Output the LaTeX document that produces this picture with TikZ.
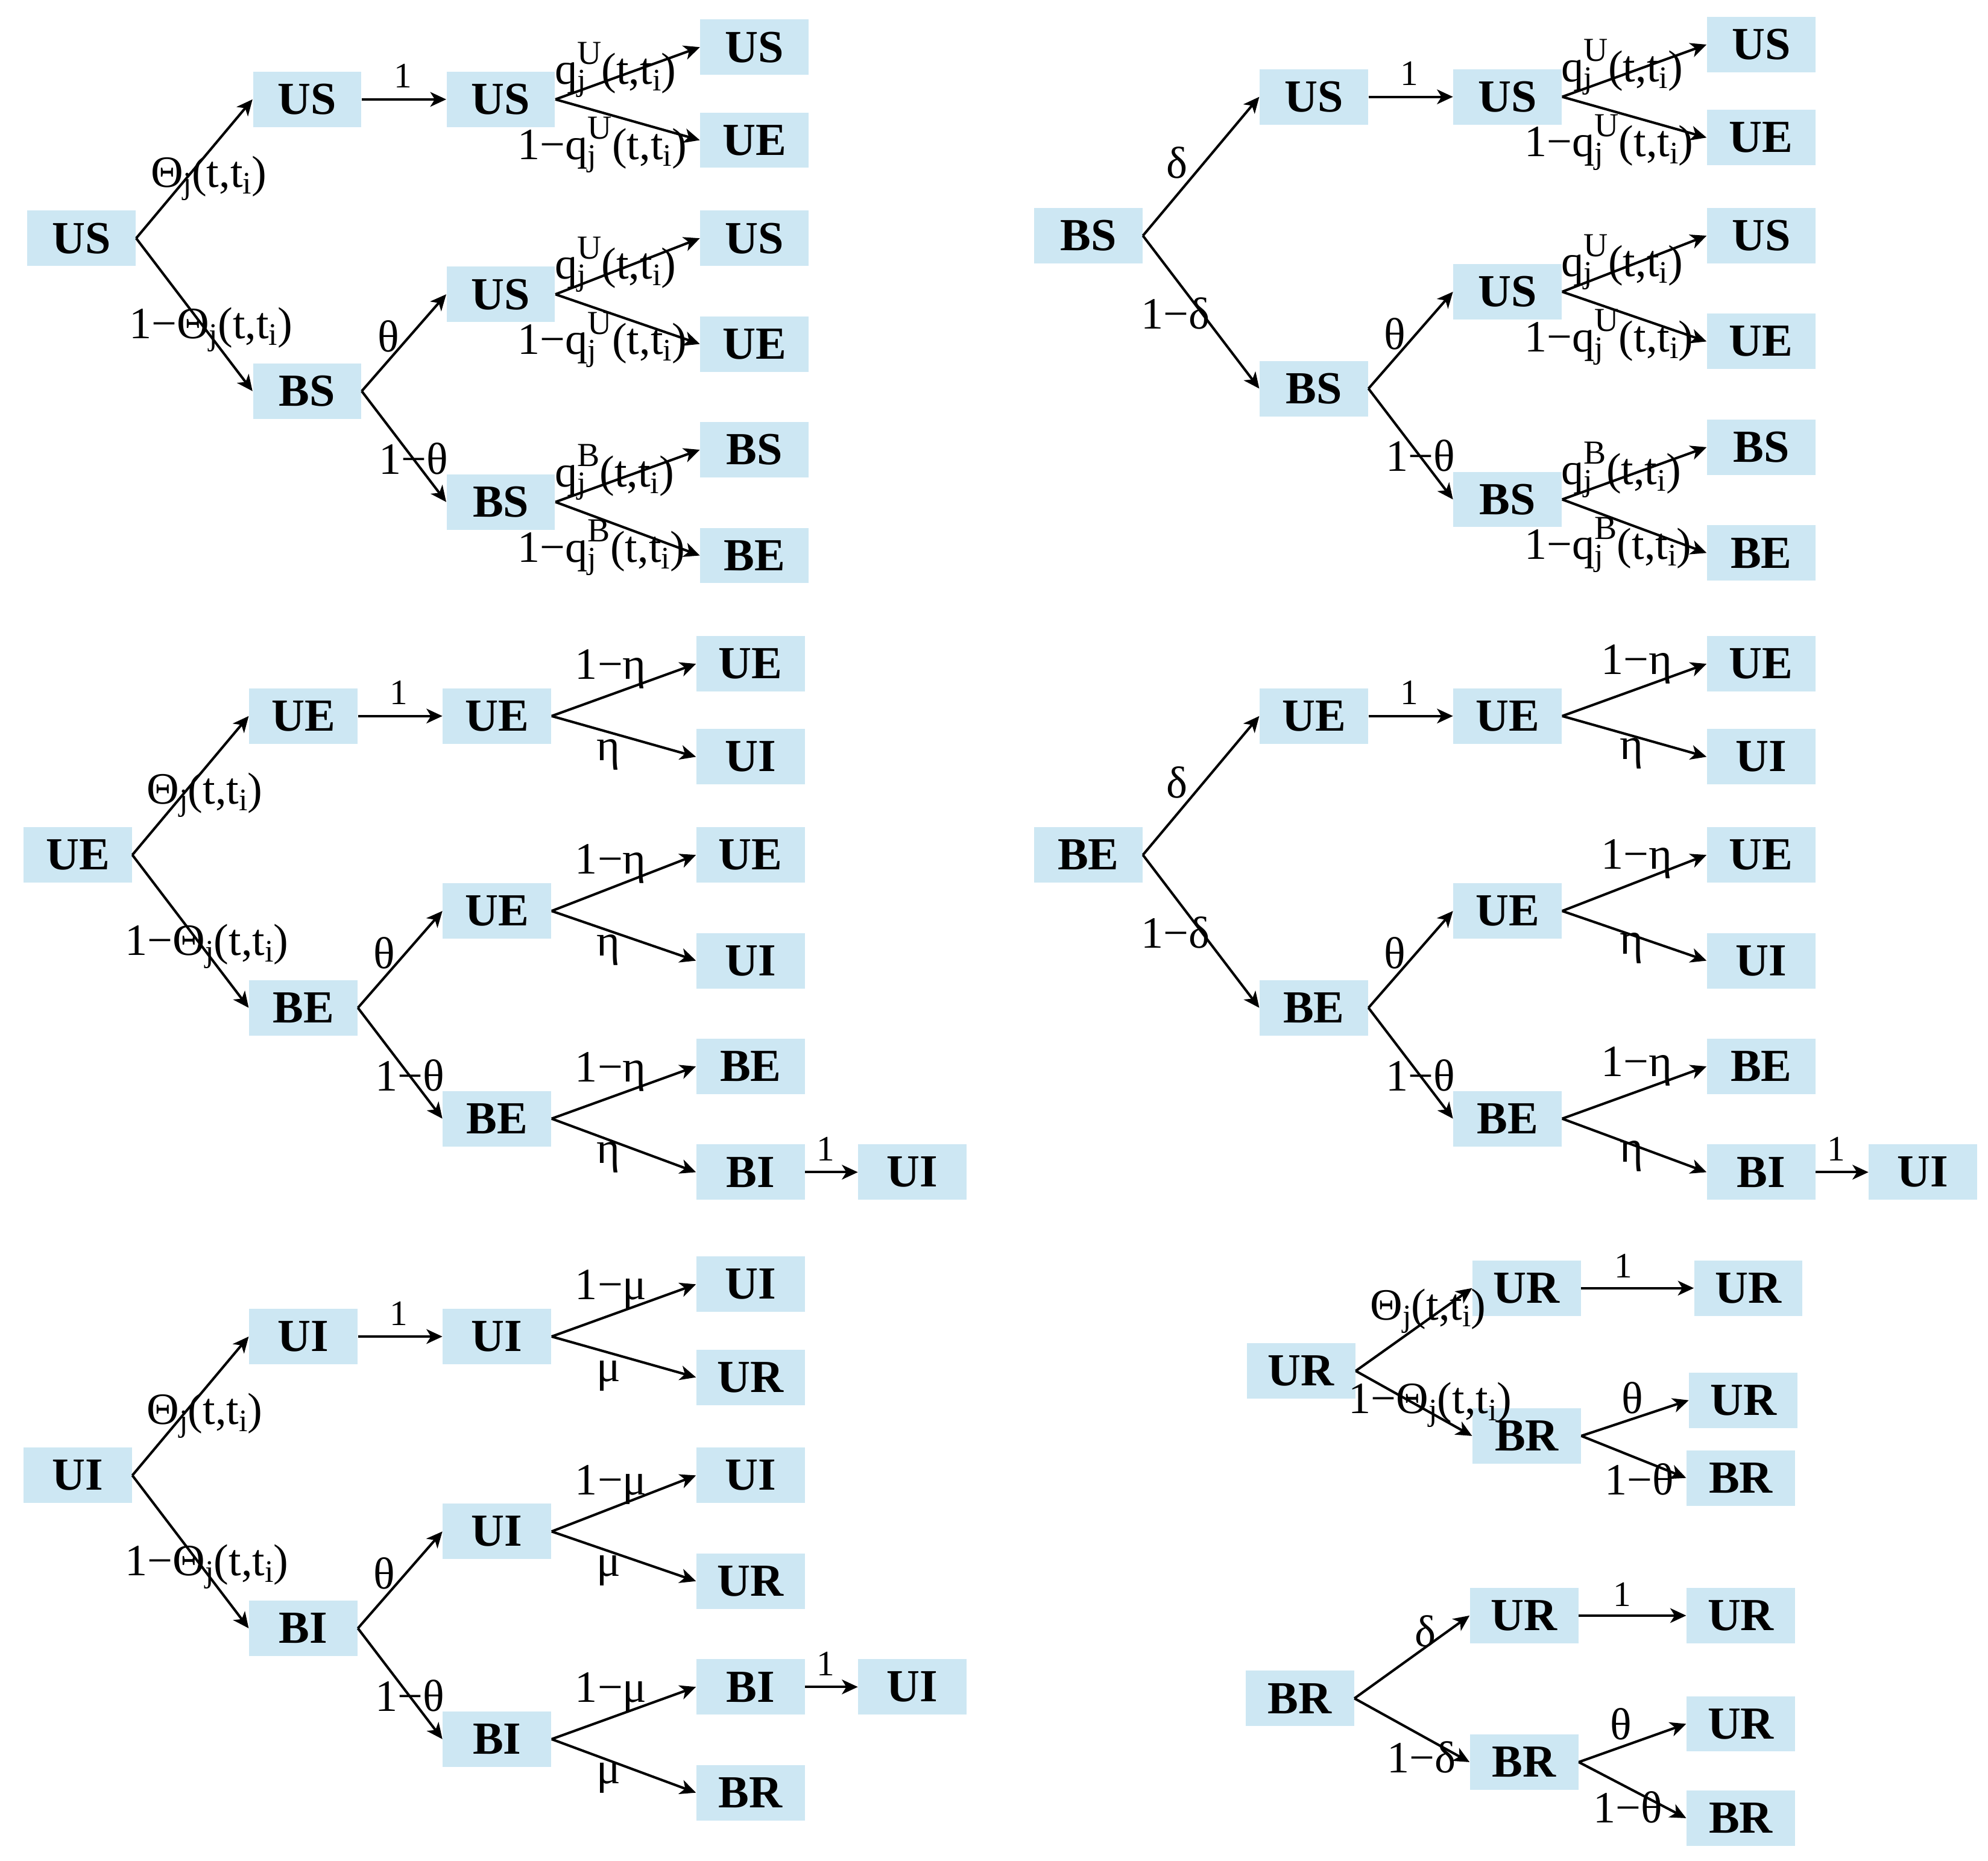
\documentclass[tikz,border=0pt]{standalone}
\usepackage{fontspec}
\setmainfont{Liberation Serif}
\usetikzlibrary{arrows.meta}
\definecolor{boxblue}{RGB}{205,231,243}
\newcommand\lsb[1]{\raisebox{-3pt}{\fontsize{14}{14}\selectfont #1}}
\newcommand\lsp[1]{\raisebox{9pt}{\fontsize{15}{15}\selectfont #1}}
\newcommand\Thj{Θ\lsb{j}(t,t\lsb{i})}
\newcommand\qq[1]{q\rlap{\lsb{j}}\lsp{#1}(t,t\lsb{i})}
% main body of a big tree: root, level 1, level 2
\newcommand\treeA[7]{%
  \node[box] (#1r) at (0,0) {#2};
  \node[box] (#1a) at (177,-109) {#3};
  \node[box] (#1b) at (177,120) {#4};
  \node[box] (#1c) at (329,-109) {#5};
  \node[box] (#1d) at (329,44) {#6};
  \node[box] (#1e) at (329,207) {#7};
  \draw[arr] (#1r.east) -- (#1a.west);
  \draw[arr] (#1r.east) -- (#1b.west);
  \draw[arr] (#1a.east) -- (#1c.west);
  \draw[arr] (#1b.east) -- (#1d.west);
  \draw[arr] (#1b.east) -- (#1e.west);
  \node[onelab] (#1one) at (252,-118) {1};
  \node[lab] (#1th) at (232,89) {θ};
  \node[lab] (#1nth) at (233,185) {1−θ};
}
% leaves of a big tree
\newcommand\treeL[7]{%
  \node[box] (#1l1) at (528,-150) {#2};
  \node[box] (#1l2) at (528,-77) {#3};
  \node[box] (#1l3) at (528,0) {#4};
  \node[box] (#1l4) at (528,83) {#5};
  \node[box] (#1l5) at (528,166) {#6};
  \node[box] (#1l6) at (528,249) {#7};
  \draw[arr] (#1c.east) -- (#1l1.west);
  \draw[arr] (#1c.east) -- (#1l2.west);
  \draw[arr] (#1d.east) -- (#1l3.west);
  \draw[arr] (#1d.east) -- (#1l4.west);
  \draw[arr] (#1e.east) -- (#1l5.west);
  \draw[arr] (#1e.east) -- (#1l6.west);
}
\newcommand\qlabels[1]{%
  \node[lab] (#1q1) at (371,-121) {\qq{U}};
  \node[lab] (#1q2) at (342,-62) {1−\qq{U}};
  \node[lab] (#1q3) at (371,32) {\qq{U}};
  \node[lab] (#1q4) at (342,91) {1−\qq{U}};
  \node[lab] (#1q5) at (371,195) {\qq{B}};
  \node[lab] (#1q6) at (342,254) {1−\qq{B}};
}
% #1 prefix, #2 greek letter, #3 x of "1-g", #4 dy of "1-g", #5 x of "g", #6 dy of "g"
\newcommand\glabels[6]{%
  \node[lab] (#1g1) at (#3,{-109+(#4)}) {1−#2};
  \node[lab] (#1g2) at (#5,{-109+(#6)}) {#2};
  \node[lab] (#1g3) at (#3,{44+(#4)}) {1−#2};
  \node[lab] (#1g4) at (#5,{44+(#6)}) {#2};
  \node[lab] (#1g5) at (#3,{207+(#4)}) {1−#2};
  \node[lab] (#1g6) at (#5,{207+(#6)}) {#2};
}
\begin{document}
\begin{tikzpicture}[x=0.02cm,y=-0.02cm,
  box/.style={fill=boxblue, minimum width=1.7cm, minimum height=0.87cm, inner sep=0pt,
    font=\fontsize{20.5}{24}\selectfont\bfseries},
  lab/.style={inner sep=0pt, anchor=base west, font=\fontsize{20}{24}\selectfont},
  onelab/.style={inner sep=0pt, anchor=base, font=\fontsize{16}{19}\selectfont},
  arr/.style={-{Stealth[length=0.25cm,width=0.23cm,inset=0.07cm]}, line width=1.1pt}]
\useasboundingbox (0,0) rectangle (1560,1460.6);

% ---------- top left ----------
\begin{scope}[shift={(64,187)}]
  \treeA{tl}{US}{US}{BS}{US}{US}{BS}
  \treeL{tl}{US}{UE}{US}{UE}{BS}{BE}
  \node[lab] (tlup) at (54,-40) {\Thj};
  \node[lab] (tldn) at (37,78.5) {1−\Thj};
  \qlabels{tl}
\end{scope}

% ---------- top right ----------
\begin{scope}[shift={(854,185)}]
  \treeA{tr}{BS}{US}{BS}{US}{US}{BS}
  \treeL{tr}{US}{UE}{US}{UE}{BS}{BE}
  \node[lab] (trup) at (61,-45) {δ};
  \node[lab] (trdn) at (41,73) {1−δ};
  \qlabels{tr}
\end{scope}

% ---------- middle left ----------
\begin{scope}[shift={(61,671)}]
  \treeA{ml}{UE}{UE}{BE}{UE}{UE}{BE}
  \treeL{ml}{UE}{UI}{UE}{UI}{BE}{BI}
  \node[box] (mlx) at (655,249) {UI};
  \draw[arr] (mll6.east) -- (mlx.west);
  \node[onelab] (mlxone) at (587,240) {1};
  \node[lab] (mlup) at (54,-40) {\Thj};
  \node[lab] (mldn) at (37,78.5) {1−\Thj};
  \glabels{ml}{η}{390}{-29}{407}{35}
\end{scope}

% ---------- middle right ----------
\begin{scope}[shift={(854,671)}]
  \treeA{mr}{BE}{UE}{BE}{UE}{UE}{BE}
  \treeL{mr}{UE}{UI}{UE}{UI}{BE}{BI}
  \node[box] (mrx) at (655,249) {UI};
  \draw[arr] (mrl6.east) -- (mrx.west);
  \node[onelab] (mrxone) at (587,240) {1};
  \node[lab] (mrup) at (61,-45) {δ};
  \node[lab] (mrdn) at (41,73) {1−δ};
  \glabels{mr}{η}{402}{-33}{417}{34}
\end{scope}

% ---------- bottom left ----------
\begin{scope}[shift={(61,1158)}]
  \treeA{bl}{UI}{UI}{BI}{UI}{UI}{BI}
  \treeL{bl}{UI}{UR}{UI}{UR}{BI}{BR}
  \node[box] (blx) at (655,166) {UI};
  \draw[arr] (bll5.east) -- (blx.west);
  \node[onelab] (blxone) at (587,157) {1};
  \node[lab] (blup) at (54,-40) {\Thj};
  \node[lab] (bldn) at (37,78.5) {1−\Thj};
  \glabels{bl}{μ}{390}{-29}{407}{35}
\end{scope}

% ---------- small tree UR ----------
\begin{scope}[shift={(1021,1076)}]
  \node[box] (urr) at (0,0) {UR};
  \node[box] (ura) at (177,-65) {UR};
  \node[box] (urb) at (177,51) {BR};
  \node[box] (url1) at (351,-65) {UR};
  \node[box] (url2) at (347,23) {UR};
  \node[box] (url3) at (345,84) {BR};
  \draw[arr] (urr.east) -- (ura.west);
  \draw[arr] (urr.east) -- (urb.west);
  \draw[arr] (ura.east) -- (url1.west);
  \draw[arr] (urb.east) -- (url2.west);
  \draw[arr] (urb.east) -- (url3.west);
  \node[lab] (urup) at (54,-40) {\Thj};
  \node[lab] (urdn) at (37,33.5) {1−\Thj};
  \node[onelab] (urone) at (253,-73) {1};
  \node[lab] (urth) at (251,33.5) {θ};
  \node[lab] (urnth) at (238,97) {1−θ};
\end{scope}

% ---------- small tree BR ----------
\begin{scope}[shift={(1020,1333)}]
  \node[box] (brr) at (0,0) {BR};
  \node[box] (bra) at (176,-65) {UR};
  \node[box] (brb) at (176,50) {BR};
  \node[box] (brl1) at (346,-65) {UR};
  \node[box] (brl2) at (346,20) {UR};
  \node[box] (brl3) at (346,94) {BR};
  \draw[arr] (brr.east) -- (bra.west);
  \draw[arr] (brr.east) -- (brb.west);
  \draw[arr] (bra.east) -- (brl1.west);
  \draw[arr] (brb.east) -- (brl2.west);
  \draw[arr] (brb.east) -- (brl3.west);
  \node[lab] (brup) at (90,-40.5) {δ};
  \node[lab] (brdn) at (68,58.5) {1−δ};
  \node[onelab] (brone) at (253,-72.5) {1};
  \node[lab] (brth) at (243,32.4) {θ};
  \node[lab] (brnth) at (230,97.4) {1−θ};
\end{scope}
\end{tikzpicture}
\end{document}
